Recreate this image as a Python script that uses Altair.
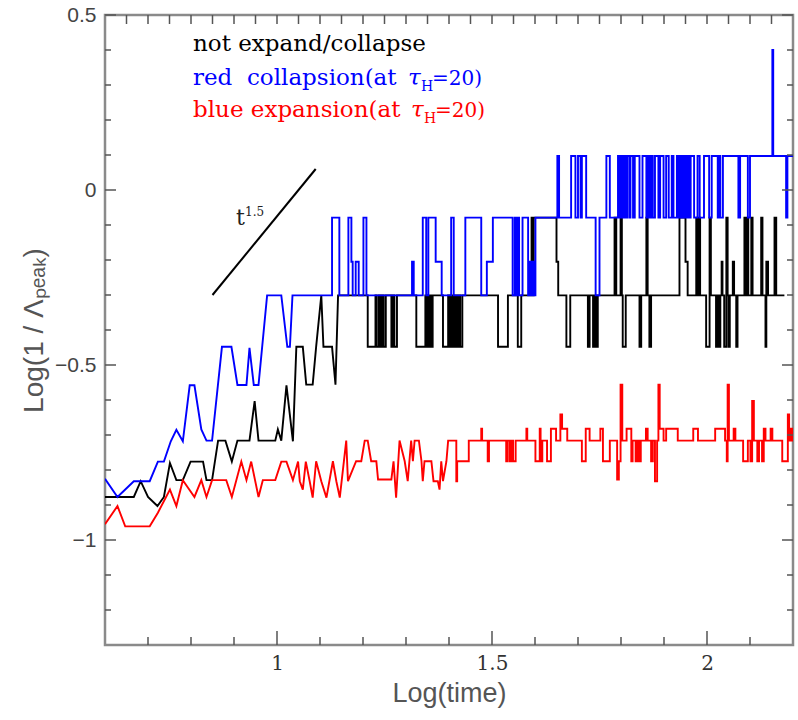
import altair as alt
import pandas as pd

# ---------------- data ----------------
# zig-zag (linearly joined) early parts, (log time, log 1/Lambda_peak)
black_lin = [(0.600, -0.877), (0.667, -0.877), (0.683, -0.832), (0.700, -0.877), (0.722, -0.903),
             (0.737, -0.877), (0.751, -0.780), (0.766, -0.829), (0.781, -0.829), (0.799, -0.776),
             (0.828, -0.776), (0.836, -0.829), (0.849, -0.829), (0.863, -0.716), (0.880, -0.716),
             (0.895, -0.776), (0.908, -0.716), (0.936, -0.716), (0.948, -0.603), (0.957, -0.716),
             (0.996, -0.716), (1.002, -0.684), (1.010, -0.716), (1.022, -0.558), (1.037, -0.718),
             (1.045, -0.448), (1.060, -0.448), (1.068, -0.556), (1.083, -0.556), (1.091, -0.448),
             (1.103, -0.301), (1.108, -0.448), (1.128, -0.448), (1.136, -0.556)]
blue_lin = [(0.600, -0.825), (0.629, -0.877), (0.667, -0.832), (0.704, -0.832), (0.723, -0.776),
            (0.737, -0.776), (0.753, -0.718), (0.766, -0.685), (0.781, -0.718), (0.797, -0.558),
            (0.808, -0.558), (0.824, -0.684), (0.836, -0.716), (0.849, -0.716), (0.872, -0.448),
            (0.894, -0.448), (0.908, -0.557), (0.929, -0.557), (0.936, -0.451), (0.946, -0.557),
            (0.957, -0.557), (0.977, -0.301), (1.010, -0.301), (1.024, -0.448), (1.030, -0.448)]
red_lin = [(0.600, -0.955), (0.629, -0.903), (0.647, -0.961), (0.704, -0.961), (0.723, -0.922),
           (0.751, -0.856), (0.766, -0.903), (0.781, -0.829), (0.808, -0.877), (0.824, -0.829),
           (0.836, -0.877), (0.849, -0.829), (0.882, -0.829), (0.895, -0.877), (0.917, -0.776),
           (0.929, -0.829), (0.940, -0.776), (0.957, -0.877), (0.967, -0.829), (0.996, -0.829),
           (1.010, -0.776), (1.022, -0.776), (1.037, -0.829), (1.049, -0.776), (1.053, -0.832),
           (1.060, -0.856), (1.067, -0.776), (1.076, -0.832), (1.083, -0.879), (1.091, -0.775),
           (1.103, -0.832), (1.115, -0.879), (1.130, -0.775), (1.138, -0.832), (1.146, -0.879),
           (1.161, -0.716), (1.165, -0.832), (1.184, -0.775), (1.196, -0.775), (1.204, -0.716),
           (1.211, -0.716), (1.219, -0.775), (1.231, -0.775), (1.235, -0.827), (1.266, -0.827),
           (1.271, -0.775), (1.277, -0.879), (1.285, -0.716), (1.297, -0.775), (1.304, -0.832),
           (1.312, -0.716), (1.316, -0.775), (1.320, -0.716), (1.330, -0.716), (1.336, -0.775),
           (1.339, -0.832), (1.343, -0.775), (1.359, -0.775), (1.364, -0.832), (1.374, -0.832),
           (1.378, -0.856), (1.382, -0.775), (1.386, -0.832), (1.394, -0.775)]

# step parts: (x where the level starts, level)
black_steps = [(1.142, -0.301), (1.211, -0.448), (1.229, -0.301), (1.232, -0.448), (1.237, -0.301),
               (1.241, -0.448), (1.244, -0.301), (1.248, -0.448), (1.253, -0.301), (1.266, -0.448),
               (1.270, -0.301), (1.273, -0.448), (1.279, -0.301), (1.324, -0.448), (1.345, -0.301),
               (1.348, -0.448), (1.351, -0.301), (1.355, -0.448), (1.358, -0.301), (1.360, -0.448),
               (1.362, -0.301), (1.386, -0.448), (1.398, -0.301), (1.401, -0.448), (1.404, -0.301),
               (1.407, -0.448), (1.410, -0.301), (1.413, -0.448), (1.416, -0.301), (1.419, -0.448),
               (1.423, -0.301), (1.426, -0.448), (1.431, -0.301), (1.514, -0.448), (1.537, -0.301),
               (1.560, -0.448), (1.568, -0.301), (1.592, -0.079), (1.594, -0.301), (1.597, -0.079),
               (1.650, -0.205), (1.654, -0.301), (1.673, -0.448), (1.682, -0.301), (1.723, -0.448),
               (1.727, -0.301), (1.735, -0.448), (1.738, -0.301), (1.742, -0.448), (1.746, -0.301),
               (1.785, -0.079), (1.789, -0.301), (1.799, -0.079), (1.802, -0.301), (1.804, -0.448),
               (1.811, -0.301), (1.843, -0.448), (1.847, -0.301), (1.859, -0.079), (1.862, -0.301),
               (1.866, -0.448), (1.870, -0.301), (1.936, -0.079), (1.950, -0.205), (1.955, -0.301),
               (1.975, -0.079), (1.978, -0.301), (1.981, -0.079), (1.984, -0.301), (1.998, -0.448),
               (2.006, -0.079), (2.009, -0.301), (2.021, -0.448), (2.025, -0.301), (2.028, -0.448),
               (2.031, -0.301), (2.034, -0.205), (2.036, -0.301), (2.040, -0.448), (2.045, -0.079),
               (2.048, -0.301), (2.050, -0.448), (2.053, -0.301), (2.060, -0.205), (2.063, -0.301),
               (2.068, -0.448), (2.071, -0.301), (2.087, -0.079), (2.091, -0.301), (2.093, -0.079),
               (2.096, -0.301), (2.103, -0.079), (2.106, -0.301), (2.126, -0.079), (2.129, -0.301),
               (2.136, -0.448), (2.138, -0.205), (2.142, -0.301), (2.157, -0.079), (2.161, -0.301)]
black_end = 2.180

blue_steps = [(1.036, -0.301), (1.128, -0.079), (1.145, -0.301), (1.166, -0.079), (1.173, -0.205),
              (1.176, -0.301), (1.183, -0.205), (1.190, -0.301), (1.201, -0.079), (1.208, -0.301),
              (1.314, -0.205), (1.318, -0.301), (1.339, -0.079), (1.347, -0.301), (1.352, -0.079),
              (1.369, -0.205), (1.383, -0.301), (1.405, -0.079), (1.411, -0.301), (1.438, -0.079),
              (1.475, -0.301), (1.488, -0.205), (1.502, -0.079), (1.548, -0.301), (1.553, -0.079),
              (1.556, -0.301), (1.560, -0.079), (1.563, -0.301), (1.571, -0.079), (1.584, -0.301),
              (1.586, -0.205), (1.587, -0.301), (1.588, -0.205), (1.589, -0.301), (1.590, -0.205),
              (1.591, -0.301), (1.592, -0.205), (1.593, -0.301), (1.594, -0.205), (1.595, -0.301),
              (1.596, -0.205), (1.597, -0.301), (1.598, -0.205), (1.599, -0.301), (1.601, -0.079),
              (1.652, 0.097), (1.656, -0.079), (1.684, 0.097), (1.694, -0.079), (1.700, 0.097),
              (1.706, -0.079), (1.709, 0.097), (1.719, -0.079), (1.741, -0.301), (1.750, -0.079),
              (1.766, 0.097), (1.774, -0.079), (1.793, 0.097), (1.796, -0.079), (1.799, 0.097),
              (1.801, -0.079), (1.804, 0.097), (1.807, -0.079), (1.809, 0.097), (1.813, -0.079),
              (1.815, 0.097), (1.820, -0.079), (1.822, 0.097), (1.828, -0.079), (1.832, 0.097),
              (1.843, -0.079), (1.850, 0.097), (1.859, -0.079), (1.862, 0.097), (1.866, -0.079),
              (1.870, 0.097), (1.874, -0.079), (1.879, 0.097), (1.887, -0.079), (1.891, 0.097),
              (1.899, -0.079), (1.905, 0.097), (1.911, -0.079), (1.918, 0.097), (1.922, -0.079),
              (1.930, 0.097), (1.934, -0.079), (1.937, 0.097), (1.940, -0.079), (1.943, 0.097),
              (1.946, -0.079), (1.949, 0.097), (1.952, -0.079), (1.955, 0.097), (1.958, -0.079),
              (1.962, 0.097), (1.970, -0.079), (1.978, 0.097), (1.983, -0.079), (1.993, 0.097),
              (2.005, -0.079), (2.011, 0.097), (2.025, -0.079), (2.028, 0.097), (2.031, -0.079),
              (2.037, 0.097), (2.073, -0.079), (2.077, 0.097), (2.095, -0.079), (2.100, 0.097),
              (2.152, 0.400), (2.154, 0.097), (2.184, -0.079), (2.187, 0.097)]
blue_end = 2.205

red_steps = [(1.398, -0.716), (1.417, -0.832), (1.419, -0.775), (1.446, -0.716), (1.475, -0.682),
             (1.477, -0.716), (1.490, -0.775), (1.493, -0.716), (1.533, -0.775), (1.536, -0.716),
             (1.541, -0.775), (1.545, -0.716), (1.549, -0.775), (1.555, -0.716), (1.580, -0.682),
             (1.582, -0.716), (1.601, -0.775), (1.611, -0.682), (1.613, -0.775), (1.617, -0.716),
             (1.628, -0.775), (1.637, -0.682), (1.649, -0.716), (1.659, -0.641), (1.663, -0.682),
             (1.675, -0.716), (1.709, -0.775), (1.718, -0.682), (1.727, -0.716), (1.752, -0.682),
             (1.758, -0.775), (1.774, -0.716), (1.791, -0.827), (1.795, -0.775), (1.799, -0.556),
             (1.803, -0.716), (1.813, -0.682), (1.824, -0.775), (1.827, -0.716), (1.834, -0.775),
             (1.838, -0.716), (1.842, -0.775), (1.846, -0.716), (1.858, -0.682), (1.862, -0.716),
             (1.870, -0.775), (1.874, -0.716), (1.879, -0.832), (1.884, -0.716), (1.887, -0.556),
             (1.890, -0.682), (1.899, -0.716), (1.905, -0.682), (1.932, -0.716), (1.968, -0.682),
             (1.979, -0.716), (2.019, -0.682), (2.042, -0.716), (2.046, -0.775), (2.048, -0.556),
             (2.051, -0.716), (2.062, -0.682), (2.066, -0.716), (2.084, -0.775), (2.095, -0.716),
             (2.101, -0.775), (2.105, -0.603), (2.109, -0.716), (2.117, -0.775), (2.121, -0.716),
             (2.128, -0.775), (2.132, -0.682), (2.136, -0.716), (2.148, -0.682), (2.152, -0.716),
             (2.175, -0.775), (2.188, -0.641), (2.191, -0.716), (2.195, -0.682), (2.198, -0.716)]
red_end = 2.205

# t^1.5 guide line
guide_x = [0.85, 1.09]
guide_y = [-0.30, 0.06]

# tick positions / labels
x_major = [1.0, 1.5, 2.0]
x_minor = [0.7, 0.8, 0.9, 1.1, 1.2, 1.3, 1.4, 1.6, 1.7, 1.8, 1.9, 2.1]
x_top = [0.65, 0.7, 0.75, 0.8, 0.85, 0.9, 0.95, 1.0, 1.05, 1.1, 1.15, 1.2, 1.25, 1.3, 1.35, 1.4,
         1.45, 1.5, 1.55, 1.6, 1.65, 1.7, 1.75, 1.8, 1.85, 1.9, 1.95, 2.0, 2.05, 2.1, 2.15]
y_major = [-1.0, -0.5, 0.0, 0.5]
y_minor = [-1.2, -1.1, -0.9, -0.8, -0.7, -0.6, -0.4, -0.3, -0.2, -0.1, 0.1, 0.2, 0.3, 0.4]

legend_text = ["not expand/collapse", "red\u00a0 collapsion(at", "blue expansion(at"]
legend_colors = ["#000000", "#0000ff", "#ff0000"]

# ---------------- build ----------------
W, H = 688, 630
XS = alt.Scale(domain=[0.6, 2.2], nice=False, zero=False)
YS = alt.Scale(domain=[-1.3, 0.5], nice=False, zero=False)

XAX = alt.Axis(values=x_major, format="~g", ticks=False, domain=False, grid=False,
               labelFont="DejaVu Serif", labelFontSize=20, labelColor="#333",
               labelPadding=8, title="Log(time)", titleFont="Liberation Sans",
               titleFontSize=27, titleFontWeight="normal", titleColor="#555",
               titlePadding=7)
YAX = alt.Axis(values=y_major, format="~g", ticks=False, domain=False, grid=False,
               labelFont="Liberation Sans", labelFontSize=21, labelColor="#444",
               labelPadding=9, title="Log(1 / \u039b\u209a\u2091\u2090\u2096)",
               titleFont="Liberation Sans", titleFontSize=28, titleFontWeight="normal",
               titleColor="#555", titlePadding=6)


def build(lin, steps, end_x):
    xs = [p[0] for p in lin]
    ys = [p[1] for p in lin]
    for i, (x0, lv) in enumerate(steps):
        x1 = steps[i + 1][0] if i + 1 < len(steps) else end_x
        xs += [x0, x1]
        ys += [lv, lv]
    return pd.DataFrame({"x": xs, "y": ys, "i": list(range(len(xs)))})


def line_layer(df, color, width=1.9):
    return alt.Chart(df).mark_line(clip=True, strokeWidth=width, color=color).encode(
        x=alt.X("x:Q", scale=XS, axis=XAX),
        y=alt.Y("y:Q", scale=YS, axis=YAX),
        order="i:Q",
    )


black_df = build(black_lin, black_steps, black_end)
blue_df = build(blue_lin, blue_steps, blue_end)
red_df = build(red_lin, red_steps, red_end)
guide_df = pd.DataFrame({"x": guide_x, "y": guide_y, "i": [0, 1]})

layers = [
    line_layer(black_df, "#000000"),
    line_layer(blue_df, "#0000ff"),
    line_layer(red_df, "#ff0000"),
    line_layer(guide_df, "#000000", 2),
]

# inward ticks
tick_col = "#555"


def xticks(vals, y0, y1):
    return alt.Chart(pd.DataFrame({"x": vals})).mark_rule(color=tick_col, strokeWidth=1.5).encode(
        x=alt.X("x:Q", scale=XS, axis=XAX), y=alt.value(y0), y2=alt.value(y1))


def yticks(vals, x0, x1):
    return alt.Chart(pd.DataFrame({"y": vals})).mark_rule(color=tick_col, strokeWidth=1.5).encode(
        y=alt.Y("y:Q", scale=YS, axis=YAX), x=alt.value(x0), x2=alt.value(x1))


layers += [
    xticks(x_major, H, H - 14),
    xticks(x_minor, H, H - 8),
    xticks(x_top, 0, 9),
    yticks(y_major, 0, 11),
    yticks(y_minor, 0, 6),
    yticks(y_major, W, W - 11),
    yticks(y_minor, W, W - 6),
]

# legend text
one = pd.DataFrame({"k": [0]})
FS = 23
base_y = [36, 70, 102]
tau_x = [0, 303, 306]


def txt(s, x, y, size, color, align="left", style="normal"):
    return alt.Chart(one).mark_text(align=align, baseline="alphabetic", font="DejaVu Serif",
                                    fontSize=size, fontStyle=style, color=color).encode(
        x=alt.value(x), y=alt.value(y), text=alt.value(s))


layers.append(txt(legend_text[0], 88, base_y[0], FS, legend_colors[0]))
for k in (1, 2):
    c = legend_colors[k]
    yb = base_y[k]
    tx = tau_x[k]
    layers.append(txt(legend_text[k], 88, yb, FS, c))
    layers.append(txt("\u03c4", tx, yb, FS, c, style="italic"))
    layers.append(txt("H", tx + 13, yb + 6, 14, c))
    layers.append(txt("=20)", tx + 24, yb, 20, c))

# t^1.5 label
layers.append(txt("t", 131, 210, 22, "#222"))
layers.append(txt("1.5", 140, 201, 12, "#222"))

chart = alt.layer(*layers).properties(
    width=W, height=H,
    autosize=alt.AutoSizeParams(type="none"),
    padding={"left": 105, "top": 15, "right": 5, "bottom": 75},
    background="white",
).configure_view(stroke="#8a8a8a", strokeWidth=2.5)

chart.save("out.html", embed_options={"renderer": "svg", "actions": False})
